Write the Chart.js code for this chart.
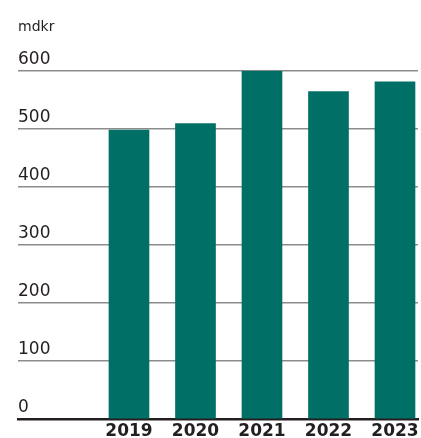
<!DOCTYPE html>
<html>
<head>
<meta charset="utf-8">
<script src="https://cdn.jsdelivr.net/npm/chart.js@4.4.1/dist/chart.umd.min.js"></script>
<style>
  html, body { margin: 0; padding: 0; background: #ffffff; }
  #wrap { width: 421px; height: 438px; }
</style>
</head>
<body>
<div id="wrap"><canvas id="chart"></canvas></div>
<script>
// ----------------------- Data ----------------------------------
const years = ['2019', '2020', '2021', '2022', '2023'];
const values = [498, 509, 600, 564, 581];
const yTicks = [0, 100, 200, 300, 400, 500, 600];
const unitLabel = 'mdkr';

const teal = '#006f66';
const ink = '#231f20';

// ----------------------- Chart ----------------------------------
const ctx = document.getElementById('chart').getContext('2d');

new Chart(ctx, {
  type: 'bar',
  data: {
    datasets: [{
      data: years.map((y, i) => ({ x: Number(y), y: values[i] })),
      backgroundColor: teal,
      borderWidth: 0,
      barThickness: 40
    }]
  },
  options: {
    responsive: true,
    maintainAspectRatio: false,
    animation: false,
    layout: { padding: { left: 18, right: 3, top: 0, bottom: 0 } },
    plugins: {
      legend: { display: false },
      tooltip: { enabled: false },
      title: {
        display: true,
        text: unitLabel,
        align: 'start',
        color: ink,
        font: { family: 'DejaVu Sans', size: 14, weight: 'normal', lineHeight: 1.2 },
        padding: { top: 19, bottom: 35 }
      }
    },
    scales: {
      x: {
        type: 'linear',
        offset: false,
        bounds: 'data',
        min: 2017.331,
        max: 2023.346,
        afterBuildTicks: scale => {
          scale.ticks = years.map(y => ({ value: Number(y) }));
        },
        afterFit: scale => {
          // keep the axis band thin and stop end labels from squeezing the plot
          scale.height = 19;
          scale.paddingLeft = 0;
          scale.paddingRight = 0;
        },
        grid: { display: false, drawTicks: false },
        border: { display: true, color: ink, width: 2.5 },
        ticks: {
          callback: v => String(v),
          color: ink,
          padding: 4,
          maxRotation: 0,
          autoSkip: false,
          font: { family: 'DejaVu Sans', size: 17, weight: 'bold', lineHeight: 1 }
        }
      },
      y: {
        min: 0,
        max: 600,
        afterBuildTicks: scale => {
          scale.ticks = yTicks.map(v => ({ value: v }));
        },
        grid: { color: '#8c8c8c', lineWidth: 1.5, drawTicks: false },
        border: { display: false },
        ticks: {
          mirror: true,
          padding: 0,
          labelOffset: -11,
          color: ink,
          font: { family: 'DejaVu Sans', size: 17 }
        }
      }
    }
  }
});
</script>
</body>
</html>
